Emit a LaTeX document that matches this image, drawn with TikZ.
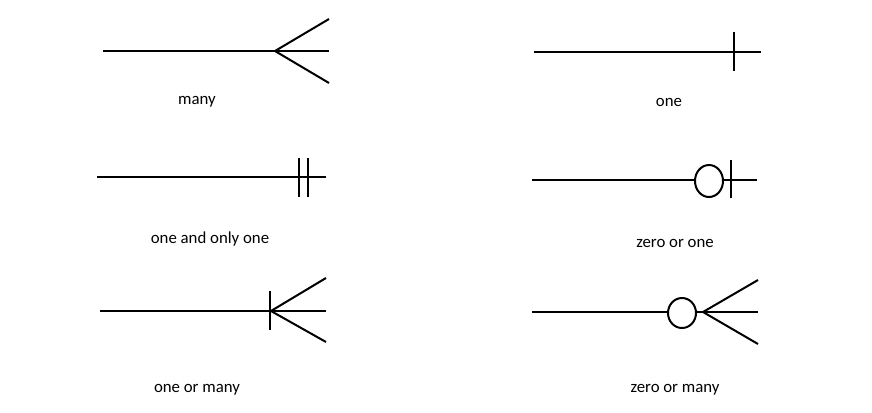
\documentclass[tikz,border=0pt]{standalone}
\usepackage{fontspec}
\setmainfont{Carlito}
\usetikzlibrary{shapes.geometric}

\begin{document}
\begin{tikzpicture}[
  x=0.75pt, y=-0.75pt,
  line width=1.5pt,
  every node/.style={font=\fontsize{12.6}{15}\selectfont, inner sep=2pt},
  ring/.style={ellipse, draw, fill=white, line width=1.5pt, inner sep=0pt,
    minimum width=21pt, minimum height=24pt},
  caption/.style={text=black}
]
 % Picture frame (872 x 412 px, y grows downwards)
 \useasboundingbox (0,0) rectangle (872,412);

 % Many
 \coordinate (mL) at (103,51);
 \coordinate (mR) at (329,51);
 \coordinate (mA) at (275,51);
 \coordinate (mU) at (329,19);
 \coordinate (mD) at (329,83);
 \draw (mL) -- (mR);
 \draw (mU) -- (mA) -- (mD);
 \node[caption] (mT) at (197,102) {many};

 % One
 \coordinate (oL) at (534,52);
 \coordinate (oR) at (761,52);
 \coordinate (oU) at (734,32);
 \coordinate (oD) at (734,71);
 \draw (oL) -- (oR);
 \draw (oU) -- (oD);
 \node[caption] (oT) at (669,102) {one};

 % One and only one
 \coordinate (ooL) at (97,177);
 \coordinate (ooR) at (326,177);
 \coordinate (ooU1) at (299,158);
 \coordinate (ooD1) at (299,197);
 \coordinate (ooU2) at (308,158);
 \coordinate (ooD2) at (308,197);
 \draw (ooL) -- (ooR);
 \draw (ooU1) -- (ooD1);
 \draw (ooU2) -- (ooD2);
 \node[caption] (ooT) at (210,239) {one and only one};

 % Zero or one
 \coordinate (zoL) at (532,180);
 \coordinate (zoR) at (757,180);
 \coordinate (zoU) at (731,160);
 \coordinate (zoD) at (731,198);
 \draw (zoL) -- (zoR);
 \draw (zoU) -- (zoD);
 \node[ring] (zoC) at (709,181) {};
 \node[caption] (zoT) at (675,243) {zero or one};

 % One or many
 \coordinate (omL) at (100,311);
 \coordinate (omR) at (326,311);
 \coordinate (omA) at (271,311);
 \coordinate (omU) at (326,278);
 \coordinate (omD) at (326,342);
 \coordinate (omBU) at (270,291);
 \coordinate (omBD) at (270,330);
 \draw (omL) -- (omR);
 \draw (omU) -- (omA) -- (omD);
 \draw (omBU) -- (omBD);
 \node[caption] (omT) at (197,390) {one or many};

 % Zero or many
 \coordinate (zmL) at (532,312);
 \coordinate (zmR) at (758,312);
 \coordinate (zmA) at (703,312);
 \coordinate (zmU) at (758,280);
 \coordinate (zmD) at (758,344);
 \draw (zmL) -- (zmR);
 \draw (zmU) -- (zmA) -- (zmD);
 \node[ring, minimum height=22.5pt] (zmC) at (682,313) {};
 \node[caption] (zmT) at (675,390) {zero or many};
\end{tikzpicture}
\end{document}
